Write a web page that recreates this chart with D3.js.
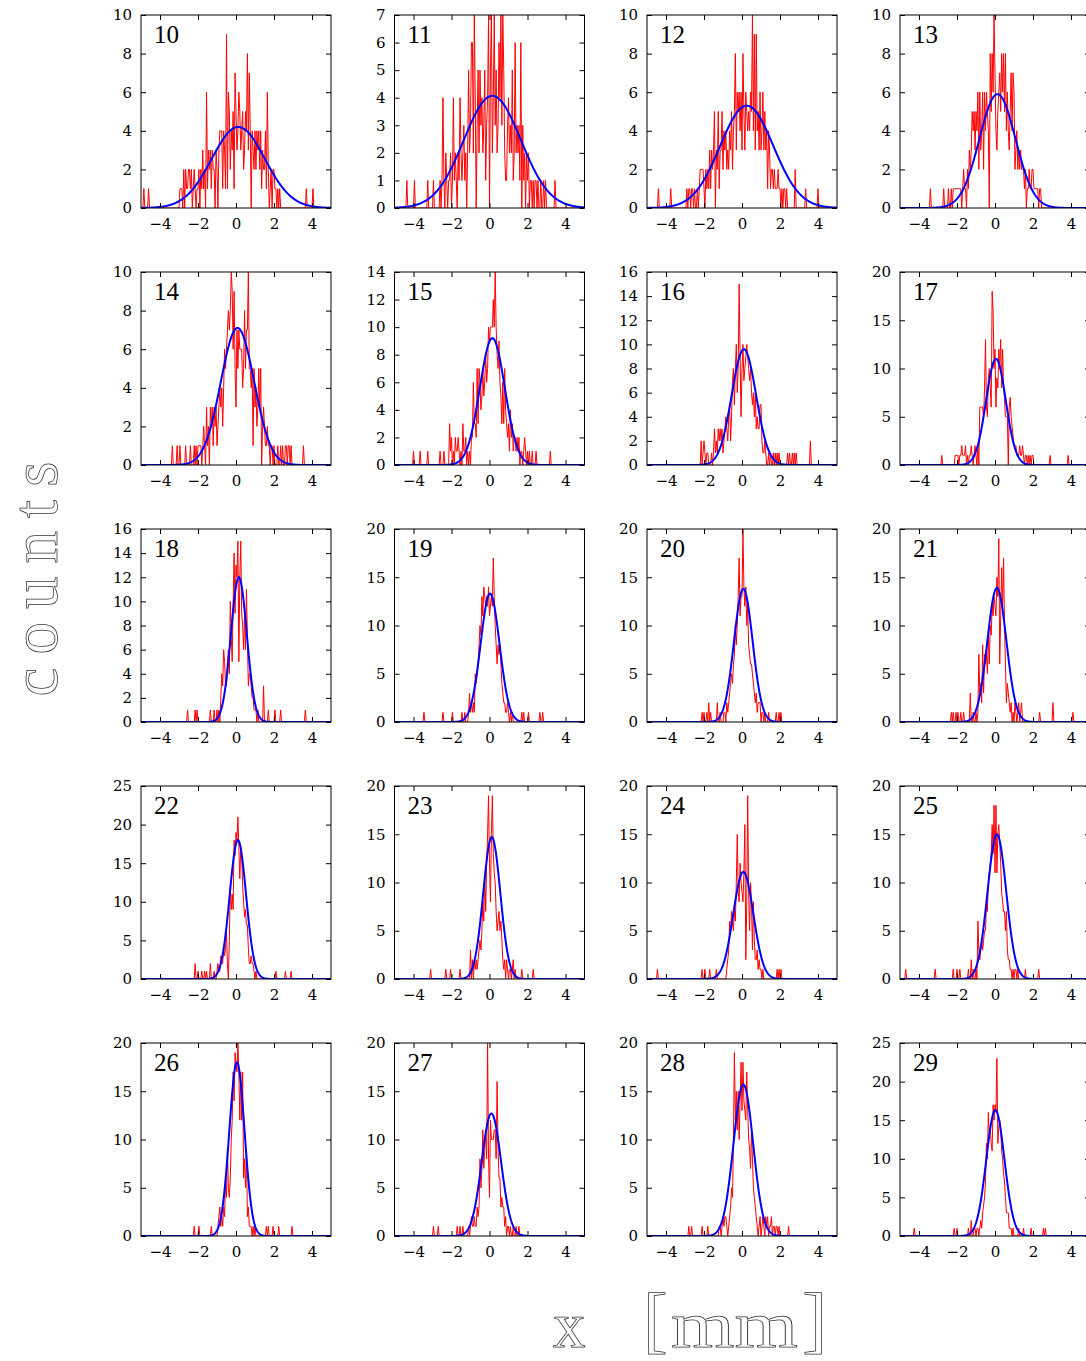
<!DOCTYPE html>
<html><head><meta charset="utf-8">
<script src="https://cdn.jsdelivr.net/npm/d3@7"></script>
<style>body{margin:0;background:#fff}</style>
</head><body>
<svg id="c" width="1086" height="1361" xmlns="http://www.w3.org/2000/svg"></svg>
<script>
// ---------------- data ----------------
const panelIds = [10,11,12,13,14,15,16,17,18,19,20,21,22,23,24,25,26,27,28,29];
const yMax  = [10,7,10,10,10,14,16,20,16,20,20,20,25,20,20,20,20,20,20,25];
const yStep = [2,1,2,2,2,2,2,5,2,5,5,5,5,5,5,5,5,5,5,5];
const xTicks = [-4,-2,0,2,4];
const xDomain = [-5,5];
const binWidth = 0.05;

// Gaussian fit parameters (blue curves)
const fitAmp   = [4.2,4.07,5.3,5.9,7.1,9.2,9.6,11.0,12.0,13.3,13.8,13.9,18.0,14.7,11.1,15.0,18.0,12.7,15.7,16.3];
const fitMean  = [0.12,0.15,0.25,0.13,0.08,0.15,0.1,0.05,0.15,0.03,0.07,0.1,0.1,0.12,0.07,0.1,0.05,0.1,0.07,0.02];
const fitSigma = [1.4,1.5,1.4,0.95,0.88,0.66,0.64,0.52,0.42,0.5,0.49,0.5,0.43,0.45,0.53,0.49,0.4,0.51,0.52,0.48];

// Histogram counts (red), bins of 0.05 starting at histStart
const histStart = [-3.0,-2.6,-2.9,-2.3,-2.2,-2.1,-2.2,-2.1,-1.0,-1.1,-1.0,-1.0,-1.0,-0.8,-0.8,-1.0,-1.0,-1.0,-1.2,-1.1];
const hist10 = [0,1,1,1,0,2,0,2,1,1, 2,2,1,2,0,1,2,1,0,1, 1,2,0,2,1,3,1,2,0,6, 1,3,2,3,1,3,2,2,0,3,
  2,0,3,4,4,4,1,4,3,1, 9,1,6,5,2,4,3,5,1,7, 5,3,4,6,5,3,4,5,2,3, 5,4,8,3,7,4,0,4,3,2,
  4,2,4,3,4,2,4,1,3,2, 2,4,1,6,2,0,1,2,0,2, 2,1,1,0,1,0,1,0,0,0,0];
const hist11 = [1,0,1,4,1,0,2,1,0,1, 1,2,0,1,4,1,2,1,0,2, 1,4,2,1,2,3,1,2,0,2, 5,2,3,6,6,2,7,4,0,3,
  5,2,5,3,4,2,3,5,1,3, 4,7,0,5,7,2,4,7,3,5, 2,3,6,4,7,3,7,5,2,1, 1,3,4,2,3,2,5,1,2,6,
  2,3,2,3,1,6,0,3,1,2, 0,2,1,2,0,1,1,0,1,0, 1,1,0,1,0,0,1,0,0,1, 0,1,0];
const hist12 = [1,0,1,1,0,1,1,0,1,0, 0,1,0,1,2,2,2,2,1,0, 2,1,2,1,3,1,3,2,3,5, 0,3,2,5,1,3,3,5,2,4,
  3,4,2,3,2,4,3,5,2,4, 5,8,3,6,5,6,4,6,3,8, 5,3,6,5,4,5,4,6,5,10, 4,9,3,9,4,5,3,6,3,4,
  6,3,5,3,4,1,4,3,1,2, 2,1,2,1,1,1,2,1,1,0, 1,0,1,1,0,1,0,0,0];
const hist13 = [1,0,1,1,1,1,1,1,1,1, 1,0,1,2,1,1,0,2,1,3, 2,3,5,4,5,3,5,4,6,2, 6,3,4,6,2,6,4,6,5,4,
  0,8,5,8,6,10,7,4,3,5, 6,7,5,8,6,8,5,8,4,6, 4,3,5,7,4,7,6,2,3,4, 2,3,2,3,2,2,2,1,2,0,
  1,1,2,1,1,2,2,1,1,1, 1,1,0,1,1,0,0,0,0];
const hist14 = [1,0,1,0,1,1,1,1,0,1, 2,1,0,3,1,2,0,3,2,3, 1,3,2,3,1,2,3,4,3,4, 2,4,6,5,6,7,8,7,8,10,
  9,6,9,5,3,7,5,7,6,6, 6,4,5,8,5,7,7,10,5,5, 4,5,1,5,3,4,2,3,5,3, 5,0,2,3,2,1,1,2,1,1,
  0,1,1,0,1,0,0,0,1,0, 0,1,0,1,0,0,1,1,0,1, 1,0,1];
const hist15 = [3,1,2,0,1,0,2,1,1,2, 1,0,1,0,3,1,1,2,0,1, 0,1,0,2,2,6,3,3,2,7, 3,7,6,4,5,7,5,6,8,6,
  7,10,9,10,10,10,12,10,14,10, 8,7,9,6,5,3,6,3,7,4, 3,2,3,1,4,2,3,1,2,2, 1,2,1,2,0,1,1,0,1,2,
  1,0,1,0,1,0,0,1,0,0, 0,1,0];
const hist16 = [0,2,0,1,2,1,0,1,1,0, 0,0,1,0,1,3,1,2,1,3, 2,3,2,3,1,2,3,4,3,2, 4,5,2,4,7,8,5,8,10,6,
  8,15,9,4,8,10,7,8,9,10, 9,8,7,8,6,5,6,4,6,3, 4,3,3,5,5,2,1,1,2,1, 0,0,1,0,1,0,0,1,0,1,
  0,1,0,1,0];
const hist17 = [1,1,1,1,0,1,1,2,1,1, 1,2,0,1,0,1,1,2,1,0, 1,2,1,0,2,0,6,6,6,6, 5,8,13,6,5,9,10,8,6,18,
  16,10,12,6,9,8,12,10,13,8, 12,8,7,5,5,5,0,6,7,5, 4,3,2,2,2,1,1,1,2,1, 1,2,1,0,1,1,0,1,0,1,
  0,1,1,0,0];
const hist18 = [1,0,1,0,2,4,3,6,5,3, 3,5,6,4,10,7,5,10,14,9, 13,12,15,5,12,15,9,8,6,9, 6,11,7,3,4,4,3,2,2,1,
  1,1,0,1,0];
const hist19 = [1,3,1,2,1,2,1,5,4,5, 6,8,10,9,13,11,14,13,12,13, 12,14,11,12,13,12,17,13,10,8, 6,8,7,8,6,4,3,2,2,1,
  1,2,1,0,1,0,1,0,0];
const hist20 = [0,1,1,0,2,1,2,3,4,5, 4,6,7,10,8,10,13,17,11,13, 13,20,14,12,14,10,12,8,7,6, 6,5,4,3,2,3,1,2,2,2,
  0,1,1,0,1,0,0];
const hist21 = [1,0,1,7,3,4,2,8,3,7, 6,7,5,9,6,10,9,12,11,13, 12,11,15,13,19,6,11,16,12,17, 10,6,2,4,3,2,1,2,0,1,
  0,2,1,0,1,2,0,1,2,0, 0];
const hist22 = [1,2,1,1,3,2,2,4,3,4, 6,2,0,5,12,9,11,9,18,16, 19,18,21,17,13,17,16,12,10,8, 9,7,7,4,2,2,3,2,2,1,
  0,1,0];
const hist23 = [2,1,2,1,2,3,4,3,5,8, 6,11,7,12,15,19,12,8,15,19, 13,11,10,7,5,6,7,5,6,4, 2,1,2,0,2,1,0,1,1,0,
  1,2,0,1,0,0,0];
const hist24 = [1,2,3,6,5,7,6,5,7,6, 10,15,9,8,12,10,9,8,11,16, 2,8,19,9,5,10,8,3,8,4, 2,2,3,1,2,1,1,0,1,0,
  0];
const hist25 = [1,0,6,3,2,3,4,3,4,5, 5,8,7,10,11,12,13,16,13,18, 11,18,11,15,16,14,12,9,8,7, 7,5,7,3,2,2,1,1,0,1,
  0,1,1,0,1,0,0];
const hist26 = [0,1,2,3,1,2,1,3,2,6, 4,9,5,4,6,10,12,17,14,19, 18,17,20,17,12,17,12,17,6,8, 5,9,2,3,1,1,1,0,1,0,
  1];
const hist27 = [1,2,1,1,2,1,1,3,2,3, 8,5,7,11,7,9,11,8,20,8, 4,12,10,10,10,11,11,8,16,9, 6,6,3,4,3,3,1,2,0,1,
  1,0,1,0,0];
const hist28 = [1,1,0,1,2,1,2,2,1,0, 1,2,3,5,4,10,19,12,15,11, 15,10,14,18,13,18,14,13,12,17, 13,10,9,7,11,8,5,4,3,2,
  1,0,1,2,0,1,2,1,0,2, 1,2,0,1,1,2,0,1,1,0, 1,1,0,1,0];
const hist29 = [1,1,0,1,1,0,1,2,1,3, 4,5,7,12,10,16,13,14,12,11, 17,15,17,16,23,12,14,15,14,11, 10,8,7,5,3,3,3,1,1,1,
  0,1,0,0,0];
const histCounts = [hist10,hist11,hist12,hist13,hist14,hist15,hist16,hist17,hist18,hist19,
  hist20,hist21,hist22,hist23,hist24,hist25,hist26,hist27,hist28,hist29];

// isolated outlier bins [x, count]
const out10 = [[-4.85,1],[-4.6,1],[3.7,1],[4.05,1]];
const out11 = [[-4.35,1],[-3.95,1],[-3.25,1],[-2.95,1],[3.45,1]];
const out12 = [[-4.4,1],[-3.75,1],[2.8,2],[3.35,1],[4.0,1]];
const out13 = [[-3.4,1],[-2.7,1],[-2.45,1]];
const out14 = [[-3.35,1],[-3.1,1],[-2.95,1],[-2.65,1],[-2.4,1],[3.55,1]];
const out15 = [[-4.0,1],[-3.65,1],[-3.25,1],[-2.6,1],[-2.4,1],[3.2,1]];
const out16 = [[2.4,1],[2.5,1],[2.65,1],[2.75,1],[2.85,1],[3.6,2]];
const out17 = [[-2.8,1],[2.9,1],[3.85,1]];
const out18 = [[-2.55,1],[-2.15,1],[-2.05,1],[-1.35,1],[-1.15,1],[1.45,3],[1.7,1],[2.05,1],[2.35,1],[3.65,1]];
const out19 = [[-3.45,1],[-2.45,1],[-1.95,1],[-1.45,1],[-1.3,1],[1.7,1],[1.8,1],[2.05,1],[2.65,1],[2.8,1]];
const out20 = [[-2.1,1],[-2.0,1],[-1.85,1],[-1.75,2],[-1.65,1],[-1.3,2],[-1.15,1],[1.4,1],[1.8,1],[1.95,1],[2.05,1]];
const out21 = [[-2.3,1],[-2.2,1],[-2.05,1],[-1.95,1],[-1.8,1],[-1.65,1],[-1.3,3],[-1.15,1],[2.35,1],[3.05,2],[4.1,1]];
const out22 = [[-2.15,2],[-2.0,1],[-1.8,1],[-1.65,1],[-1.55,1],[-1.35,2],[-1.15,1],[2.1,1],[2.6,1],[2.9,1]];
const out23 = [[-3.1,1],[-2.3,1],[-2.05,1],[-1.55,1],[-1.0,3],[-0.9,2],[1.7,1],[2.3,1]];
const out24 = [[-4.45,1],[-2.1,1],[-1.95,1],[-1.7,1],[-1.35,1],[1.85,1],[1.95,1],[2.05,1]];
const out25 = [[-4.7,1],[-3.15,1],[-2.2,1],[-2.0,1],[-1.85,1],[-1.4,1],[-1.25,2],[-1.15,1],[1.6,1],[2.3,1]];
const out26 = [[-2.2,1],[-1.95,1],[-1.3,1],[1.6,1],[1.7,1],[1.95,1],[2.25,1],[2.95,1]];
const out27 = [[-2.95,1],[-2.7,1],[-1.7,1],[-1.55,1],[-1.4,1],[-1.1,1],[1.25,1],[1.4,1],[1.55,1]];
const out28 = [[-2.8,1],[-2.65,1],[-2.1,1],[-1.8,1],[2.45,1]];
const out29 = [[-4.25,1],[-2.15,1],[-2.0,1],[-1.4,1],[-1.25,2],[1.25,1],[1.5,1],[1.9,1],[2.55,1],[2.65,1]];
const outliers = [out10,out11,out12,out13,out14,out15,out16,out17,out18,out19,
  out20,out21,out22,out23,out24,out25,out26,out27,out28,out29];

const yLabel = "counts";
const xLabelVar = "x";
const xLabelOpen = "[";
const xLabelUnit = "mm";
const xLabelClose = "]";

// ---------------- layout ----------------
const colLeft = [141, 394.5, 647, 900];
const rowTop = [15, 272, 529, 786, 1043];
const pw = 190, ph = 193;
const tickFont = "'DejaVu Serif', serif";
const labelFont = "'Liberation Serif', 'DejaVu Serif', serif";

const svg = d3.select("#c");
svg.append("rect").attr("width",1086).attr("height",1361).attr("fill","#fff");

const x = d3.scaleLinear().domain(xDomain).range([0, pw]);
const nBins = Math.round((xDomain[1]-xDomain[0])/binWidth) + 1;
const grid = d3.range(nBins).map(i => xDomain[0] + i*binWidth);
const intFmt = d3.format("d");

panelIds.forEach((pid, i) => {
  const col = i % 4, row = Math.floor(i / 4);
  const g = svg.append("g").attr("transform", `translate(${colLeft[col]},${rowTop[row]})`);
  const y = d3.scaleLinear().domain([0, yMax[i]]).range([ph, 0]);

  const cid = "clip" + pid;
  g.append("clipPath").attr("id", cid).append("rect").attr("width", pw).attr("height", ph);

  // histogram series
  const counts = new Array(nBins).fill(0);
  const s0 = Math.round((histStart[i]-xDomain[0])/binWidth);
  histCounts[i].forEach((c, k) => { if (s0+k >= 0 && s0+k < nBins) counts[s0+k] = c; });
  outliers[i].forEach(([ox, n]) => {
    const k = Math.round((ox-xDomain[0])/binWidth);
    if (k >= 0 && k < nBins) counts[k] = Math.max(counts[k], n);
  });
  const pts = grid.map((gx, k) => [gx, counts[k]]);
  const line = d3.line().x(d => x(d[0])).y(d => y(d[1]));

  const plot = g.append("g").attr("clip-path", `url(#${cid})`);
  plot.append("path").attr("d", line(pts)).attr("fill","none")
    .attr("stroke","#ff0000").attr("stroke-width",1).attr("stroke-linejoin","miter");

  // fitted gaussian
  const fx = d3.range(0, 401).map(k => xDomain[0] + k*(xDomain[1]-xDomain[0])/400);
  const fit = fx.map(v => [v, fitAmp[i]*Math.exp(-0.5*Math.pow((v-fitMean[i])/fitSigma[i],2))]);
  plot.append("path").attr("d", line(fit)).attr("fill","none")
    .attr("stroke","#0000ff").attr("stroke-width",2);

  // axes
  const yt = d3.range(0, yMax[i] + yStep[i]/2, yStep[i]);
  const style = sel => {
    sel.select(".domain").remove();
    sel.selectAll(".tick line").attr("stroke","#000");
    sel.selectAll("text").attr("fill","#000");
    sel.attr("font-family", tickFont).attr("font-size", 15);
  };
  g.append("g").attr("transform", `translate(0,${ph})`)
    .call(d3.axisBottom(x).tickValues(xTicks).tickSize(-5).tickPadding(10)).call(style);
  g.append("g")
    .call(d3.axisTop(x).tickValues(xTicks).tickSize(-5).tickFormat("")).call(style);
  g.append("g")
    .call(d3.axisLeft(y).tickValues(yt).tickFormat(intFmt).tickSize(-5).tickPadding(9)).call(style);
  g.append("g").attr("transform", `translate(${pw},0)`)
    .call(d3.axisRight(y).tickValues(yt).tickSize(-5).tickFormat("")).call(style);

  g.append("rect").attr("x",0).attr("y",0).attr("width",pw).attr("height",ph)
    .attr("fill","none").attr("stroke","#000").attr("stroke-width",1);

  g.append("text").attr("x", 13).attr("y", 28).text(pid)
    .attr("font-family", labelFont).attr("font-size", 25).attr("fill","#000");
});

// axis titles
const titleStyle = sel => sel.attr("font-family", labelFont)
  .attr("fill","#fff").attr("stroke","#333").attr("stroke-width",0.75);
svg.append("text").attr("transform","translate(57,579) rotate(-90)")
  .attr("text-anchor","middle").attr("font-size", 65)
  .attr("textLength", 235).attr("lengthAdjust","spacing")
  .call(titleStyle).text(yLabel);
svg.append("text").attr("x", 553).attr("y", 1347).attr("font-size", 65)
  .call(titleStyle).text(xLabelVar);
svg.append("text").attr("x", 643).attr("y", 1344).attr("font-size", 74)
  .call(titleStyle).text(xLabelOpen);
svg.append("text").attr("x", 671).attr("y", 1347).attr("font-size", 65)
  .attr("textLength", 127).attr("lengthAdjust","spacingAndGlyphs")
  .call(titleStyle).text(xLabelUnit);
svg.append("text").attr("x", 827).attr("y", 1344).attr("font-size", 74)
  .attr("text-anchor","end")
  .call(titleStyle).text(xLabelClose);
</script>
</body></html>
